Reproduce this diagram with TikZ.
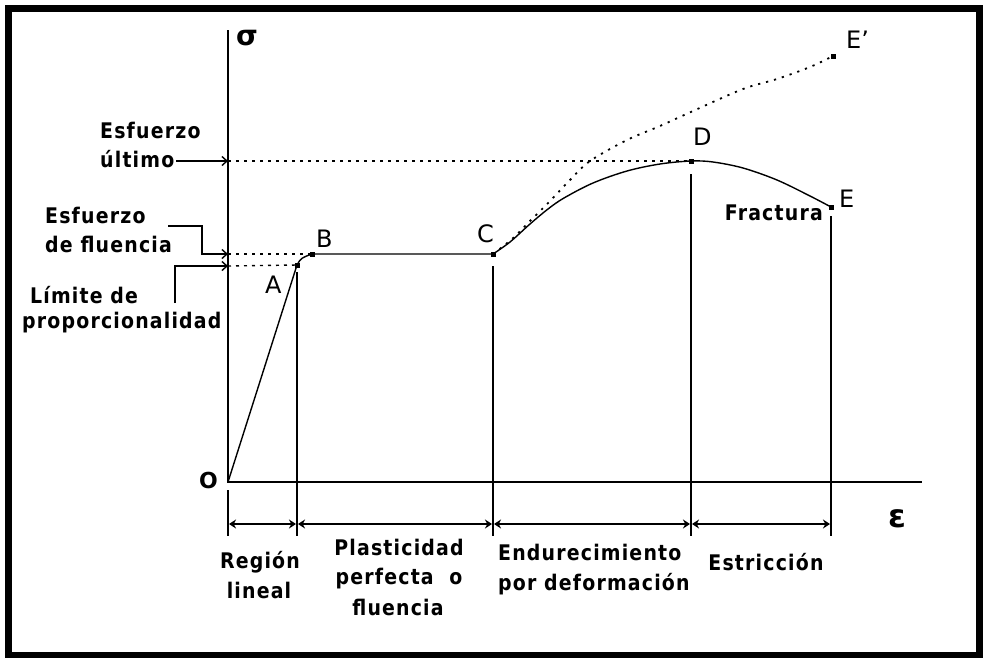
\documentclass[tikz,border=0pt]{standalone}
\usepackage{fontspec}
\setmainfont{DejaVu Sans}
\newfontfamily\labfont{DejaVu Sans}[FakeStretch=0.88, LetterSpace=5.5]
\usetikzlibrary{arrows.meta,calc}
\tikzset{
  lab/.style={font=\labfont\fontsize{21.5}{24}\selectfont\bfseries, inner sep=0pt},
  pt/.style={font=\fontsize{24}{26}\selectfont, inner sep=0pt},
  axis/.style={line width=1.6pt},
  curve/.style={line width=1.4pt, line join=round},
  guide/.style={line width=1.4pt, dash pattern=on 3pt off 5pt},
  dotcurve/.style={line width=1.8pt, dash pattern=on 2.2pt off 6pt},
  ptr/.style={line width=1.4pt, -{Straight Barb[length=5pt,width=9pt]}},
  dim/.style={line width=1.4pt, {Stealth[length=7pt,width=9pt]}-{Stealth[length=7pt,width=9pt]}},
  ptmark/.style={fill=black}
}
\begin{document}
\begin{tikzpicture}[x=1pt,y=-1pt]
\useasboundingbox (0,0) rectangle (985,657);
\draw[line width=7pt] (8.5,8) rectangle (979.5,655.5);

% key points
\coordinate (O) at (228,482);
\coordinate (A) at (297,265);
\coordinate (B) at (312,254);
\coordinate (C) at (493,254);
\coordinate (D) at (691,161);
\coordinate (E) at (831,207);
\coordinate (Ep) at (833,56);

% axes
\coordinate (ytop) at (228,30);
\coordinate (xend) at (922,482);
\draw[axis] (ytop) -- (O) -- (xend);
\coordinate (y0) at (228,490);
\coordinate (y1) at (228,536);
\draw[axis] (y0) -- (y1);

% vertical separators
\coordinate (a1) at (297,272); \coordinate (a2) at (297,536);
\coordinate (c1) at (493,266); \coordinate (c2) at (493,536);
\coordinate (d1) at (691,174); \coordinate (d2) at (691,536);
\coordinate (e1) at (831,216); \coordinate (e2) at (831,536);
\draw[axis] (a1) -- (a2);
\draw[axis] (c1) -- (c2);
\draw[axis] (d1) -- (d2);
\draw[axis] (e1) -- (e2);

% dimension arrows
\coordinate (r0) at (229,524); \coordinate (r1) at (296,524);
\coordinate (s0) at (298,524); \coordinate (s1) at (492,524);
\coordinate (t0) at (494,524); \coordinate (t1) at (690,524);
\coordinate (u0) at (692,524); \coordinate (u1) at (830,524);
\draw[dim] (r0) -- (r1);
\draw[dim] (s0) -- (s1);
\draw[dim] (t0) -- (t1);
\draw[dim] (u0) -- (u1);

% guide lines
\coordinate (gu) at (228,161);
\coordinate (gf) at (228,254);
\coordinate (gp) at (228,266);
\draw[guide] (gu) -- (D);
\draw[guide] (gf) -- (B);
\draw[guide] (gp) -- (A);

% curve
\draw[curve] (O) -- (A) .. controls (301,258) .. (B) -- (C);
\draw[curve] plot[smooth, tension=0.55] coordinates {(C) (510,242) (530,224) (548,209) (564,198) (593,183) (627,171) (660,164) (D) (713,162) (743,168) (777,180) (810,196) (E)};
\draw[dotcurve] plot[smooth, tension=0.55] coordinates {(C) (512,239) (530,221) (550,201) (570,180) (590,161) (627,140) (660,126) (693,111) (743,89) (777,79) (810,67) (Ep)};

% markers
\foreach \p in {A,B,C,D,E,Ep} \fill[ptmark] ($(\p)+(-2.5,-2.5)$) rectangle ($(\p)+(2.5,2.5)$);

% point labels
\node[pt, anchor=base west] (lA) at (265,293) {A};
\node[pt, anchor=base west] (lB) at (316,247) {B};
\node[pt, anchor=base west] (lC) at (477,242) {C};
\node[pt, anchor=base west] (lD) at (693,145) {D};
\node[pt, anchor=base west] (lE) at (839,207) {E};
\node[pt, anchor=base west] (lEp) at (846,48) {E’};
\node[inner sep=0pt, font=\fontsize{22}{24}\selectfont\bfseries, anchor=base east] (lO) at (218,488) {O};
\node[lab, anchor=base east] (frac) at (823,220) {Fractura};
\node[inner sep=0pt, font=\fontsize{28}{30}\selectfont\bfseries, anchor=base west] (sig) at (236,45) {σ};
\node[inner sep=0pt, font=\fontsize{32}{34}\selectfont\bfseries, anchor=base west] (eps) at (888,527) {ε};

% left labels
\node[lab, anchor=base west] (u1t) at (100,138) {Esfuerzo};
\node[lab, anchor=base west] (u2t) at (100,167) {último};
\node[lab, anchor=base west] (f1t) at (45,223) {Esfuerzo};
\node[lab, anchor=base west] (f2t) at (45,252) {de fluencia};
\node[lab, anchor=base west] (p1t) at (30,303) {Límite de};
\node[lab, anchor=base west] (p2t) at (22,328) {proporcionalidad};

% pointers
\coordinate (pu0) at (176,161);
\draw[ptr] (pu0) -- (gu);
\coordinate (pf0) at (168,226);
\coordinate (pf1) at (202,226);
\coordinate (pf2) at (202,254);
\draw[ptr, line join=miter] (pf0) -- (pf1) -- (pf2) -- (gf);
\coordinate (pp0) at (175,303);
\coordinate (pp1) at (175,266);
\draw[ptr, line join=miter] (pp0) -- (pp1) -- (gp);

% bottom labels
\node[lab, anchor=base] (rg1) at (260,568) {Región};
\node[lab, anchor=base] (rg2) at (259,598) {lineal};
\node[lab, anchor=base] (pl1) at (399,555) {Plasticidad};
\node[lab, anchor=base] (pl2) at (399,584) {perfecta\ \ o};
\node[lab, anchor=base] (pl3) at (398,615) {fluencia};
\node[lab, anchor=base west] (en1) at (498,560) {Endurecimiento};
\node[lab, anchor=base west] (en2) at (498,590) {por deformación};
\node[lab, anchor=base] (es1) at (766,570) {Estricción};
\end{tikzpicture}
\end{document}
